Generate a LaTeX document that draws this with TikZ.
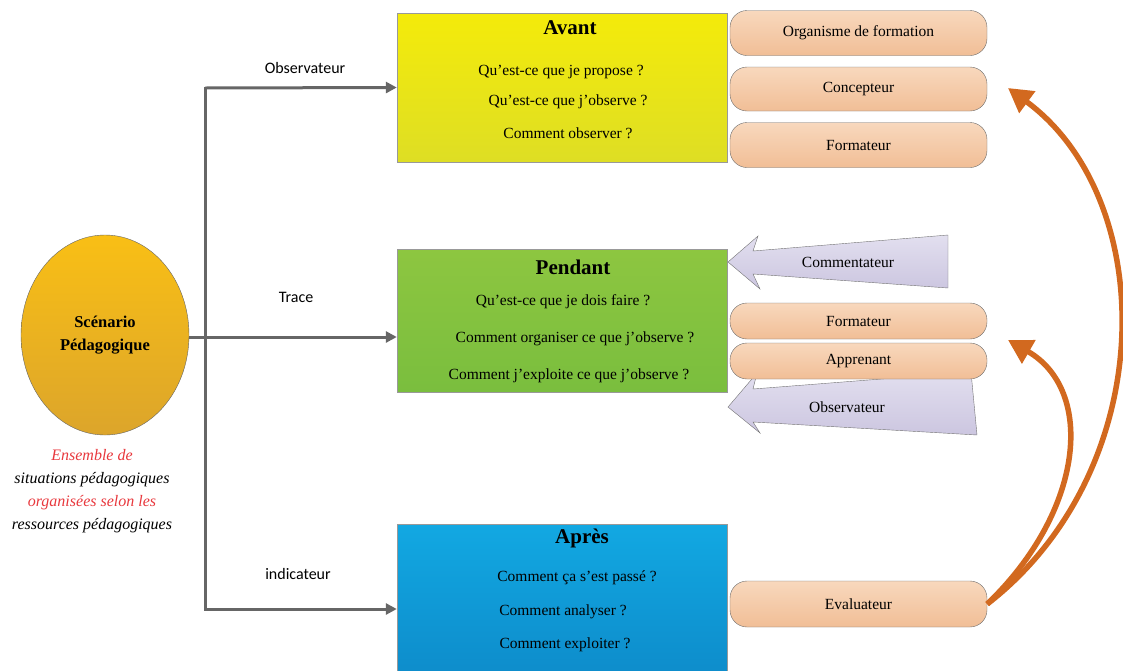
\documentclass[tikz,border=0pt]{standalone}
\usepackage{fontspec}
\setmainfont{Liberation Serif}
\newfontfamily\labelfont{Carlito}
\usetikzlibrary{arrows.meta}
\usetikzlibrary{shapes.geometric,positioning}

\definecolor{linkgray}{HTML}{666666}
\definecolor{noteRed}{HTML}{E8383D}
\definecolor{peachTop}{HTML}{F8D8BD}
\definecolor{peachBot}{HTML}{F1BE96}
\definecolor{lilacTop}{HTML}{E2DFEF}
\definecolor{lilacBot}{HTML}{CCC6E0}
\definecolor{rust}{HTML}{D2691F}

\begin{document}
\begin{tikzpicture}[x=1pt, y=-1pt,
    stage/.style={draw=gray!80, minimum width=330pt, inner sep=0pt},
    title/.style={font=\fontsize{21}{24}\selectfont\bfseries},
    question/.style={font=\fontsize{15.5}{18}\selectfont},
    role/.style={draw=gray!85!black, rounded corners=17pt, minimum width=257pt,
        top color=peachTop, bottom color=peachBot, font=\fontsize{15.5}{18}\selectfont},
    speaker/.style={draw=gray!90!black, top color=lilacTop, bottom color=lilacBot},
    link/.style={draw=linkgray, line width=3pt},
    link arrow/.style={link, -{Triangle[length=11pt,width=11pt]}},
    feedback/.style={draw=rust, line width=5.5pt, -{Triangle[length=24pt,width=26pt]}},
    flow/.style={font=\labelfont\fontsize{16}{19}\selectfont}
]
\useasboundingbox (0,0) rectangle (1123,670);
\clip (0,0) rectangle (1123,670);

% Scenario
\node[ellipse, draw=gray!80!black, top color={rgb,255:red,249;green,191;blue,21},
    bottom color={rgb,255:red,220;green,165;blue,43}, minimum width=168pt,
    minimum height=200pt, inner sep=0pt, align=center,
    font=\fontsize{16.5}{23}\selectfont\bfseries] (scen) at (105,335) {Sc\'enario\\P\'edagogique};
\node[align=center, font=\fontsize{16}{23}\selectfont\itshape] (note) at (92,491)
    {\textcolor{noteRed}{Ensemble de}\\situations p\'edagogiques\\
     \textcolor{noteRed}{organis\'ees selon les}\\ressources p\'edagogiques};

% Stages
\node[stage, minimum height=149pt, top color={rgb,255:red,244;green,235;blue,10},
    bottom color={rgb,255:red,222;green,222;blue,36}] (avant) at (562,87.5) {};
\node[stage, minimum height=143pt, top color={rgb,255:red,141;green,198;blue,64},
    bottom color={rgb,255:red,122;green,190;blue,62}] (pendant) at (562,320.5) {};
\node[stage, minimum height=170pt, top color={rgb,255:red,18;green,168;blue,226},
    bottom color={rgb,255:red,13;green,137;blue,200}] (apres) at (562,609) {};

\node[title] (avantT) at (570,28) {Avant};
\node[question] (avant1) at (561,72) {Qu’est-ce que je propose ?};
\node[question] (avant2) at (568,102) {Qu’est-ce que j’observe ?};
\node[question] (avant3) at (568,133) {Comment observer ?};

\node[title] (pendantT) at (573,267) {Pendant};
\node[question] (pendant1) at (563,302) {Qu’est-ce que je dois faire ?};
\node[question] (pendant2) at (575,339) {Comment organiser ce que j’observe ?};
\node[question] (pendant3) at (569,376) {Comment j’exploite ce que j’observe ?};

\node[title] (apresT) at (582,538) {Apr\`es};
\node[question] (apres1) at (577,578) {Comment ça s’est passé ?};
\node[question] (apres2) at (563,612) {Comment analyser ?};
\node[question] (apres3) at (565,645) {Comment exploiter ?};

% Speakers (arrows pointing to Pendant)
\draw[speaker] (728,262) -- (758,236) -- (753,251) -- (948,235) -- (948,288)
    -- (753,274) -- (760,289) -- cycle;
\node[question] (comment) at (848,262) {Commentateur};
\draw[speaker] (728,407) -- (757,373) -- (753,389) -- (971,372) -- (977,435)
    -- (753,422) -- (760,433) -- cycle;
\node[question] (observ) at (847,407) {Observateur};

% Roles
\node[role, minimum height=45pt] (org) at (858.5,33) {Organisme de formation};
\node[role, minimum height=44pt] (conc) at (858.5,89) {Concepteur};
\node[role, minimum height=45pt] (form1) at (858.5,145) {Formateur};
\node[role, minimum height=36pt] (form2) at (858.5,321) {Formateur};
\node[role, minimum height=36pt] (appr) at (858.5,361) {Apprenant};
\node[role, minimum height=46pt] (eval) at (858.5,604) {Evaluateur};

% Links
\coordinate (top) at (205,88);
\coordinate (bot) at (205,609);
\draw[link, line cap=rect] (top) -- (bot);
\draw[link arrow] (top) -- (avant.west);
\draw[link arrow] (scen.east |- 0,337) -- (pendant.west |- 0,337);
\draw[link arrow] (bot) -- (apres.west);
\node[flow] (obsLbl) at (305,68) {Observateur};
\node[flow] (traceLbl) at (296,297) {Trace};
\node[flow] (indLbl) at (298,574) {indicateur};

% Feedback
\coordinate (concTip) at (1008,88);
\coordinate (formTip) at (1008,340);
\draw[feedback] (eval.east) .. controls (1160,470) and (1160,200) .. (concTip);
\draw[feedback] (eval.east) .. controls (1085,510) and (1095,390) .. (formTip);

\end{tikzpicture}
\end{document}
